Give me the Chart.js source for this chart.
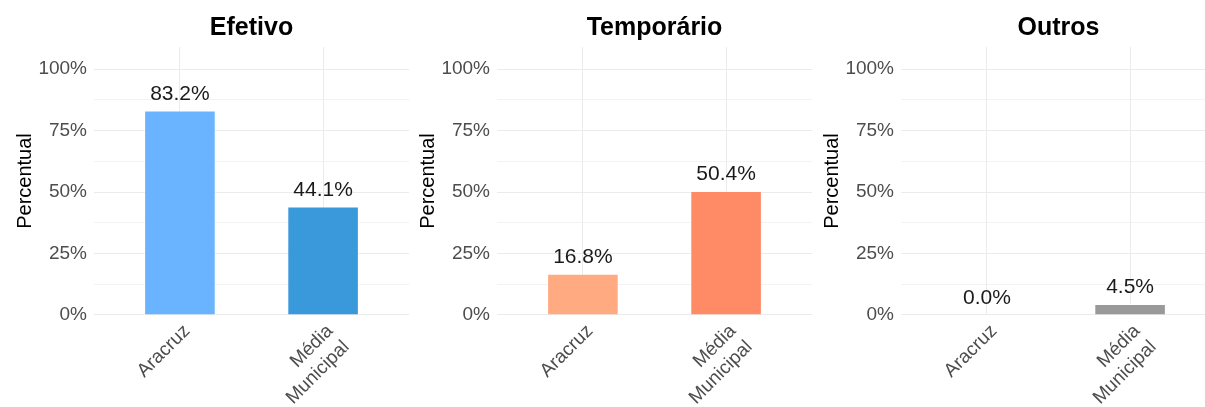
<!DOCTYPE html>
<html>
<head>
<meta charset="utf-8">
<script src="https://cdn.jsdelivr.net/npm/chart.js@4.4.1/dist/chart.umd.min.js"></script>
<style>
    html, body { margin: 0; padding: 0; background: #ffffff; overflow: hidden; }
    #wrap { position: relative; width: 1205px; height: 407px; overflow: hidden; }
    .panel { position: absolute; top: 0; width: 410px; height: 407px; }
</style>
</head>
<body>
<div id="wrap">
    <div class="panel" style="left:0px"><canvas id="chart_Efetivo" width="410" height="407"></canvas></div>
    <div class="panel" style="left:403px"><canvas id="chart_Temporario" width="410" height="407"></canvas></div>
    <div class="panel" style="left:807px"><canvas id="chart_Outros" width="410" height="407"></canvas></div>
</div>
<script>
// data
var categories = ['Aracruz', ['Média', 'Municipal']];
var panelTitles = ['Efetivo', 'Temporário', 'Outros'];
var efetivoValues = [83.2, 44.1];
var temporarioValues = [16.8, 50.4];
var outrosValues = [0.0, 4.5];
var yTickValues = [0, 12.5, 25, 37.5, 50, 62.5, 75, 87.5, 100];
var efetivoColors = ['#6AB4FF', '#3A99DB'];
var temporarioColors = ['#FFAA80', '#FF8A66'];
var outrosColors = ['#999999', '#999999'];

var FONT = '"Liberation Sans", Arial, Helvetica, sans-serif';

// panel title, centred over the plot area (like ggplot hjust = 0.5)
var panelTitlePlugin = {
    id: 'panelTitle',
    afterDraw: function (chart, args, opts) {
        var ctx = chart.ctx;
        var area = chart.chartArea;
        ctx.save();
        ctx.font = 'bold 25px ' + FONT;
        ctx.fillStyle = '#000000';
        ctx.textAlign = 'center';
        ctx.textBaseline = 'middle';
        ctx.fillText(opts.text, (area.left + area.right) / 2, 28);
        ctx.restore();
    }
};

// value labels on top of the bars
var barValuePlugin = {
    id: 'barValue',
    afterDatasetsDraw: function (chart) {
        var ctx = chart.ctx;
        var meta = chart.getDatasetMeta(0);
        var values = chart.data.datasets[0].data;
        ctx.save();
        ctx.font = '21px ' + FONT;
        ctx.fillStyle = '#1a1a1a';
        ctx.textAlign = 'center';
        ctx.textBaseline = 'bottom';
        meta.data.forEach(function (bar, i) {
            ctx.fillText(values[i].y.toFixed(1) + '%', bar.x, bar.y - 6);
        });
        ctx.restore();
    }
};

function createPanelChart(canvasId, title, values, colors) {
    var points = [];
    values.forEach(function (v, i) { points.push({ x: i, y: v }); });

    return new Chart(document.getElementById(canvasId), {
        type: 'bar',
        data: {
            datasets: [{
                data: points,
                backgroundColor: colors,
                borderColor: 'rgba(255,255,255,0.55)',
                borderWidth: 1,
                barPercentage: 0.5,
                categoryPercentage: 1
            }]
        },
        options: {
            responsive: false,
            animation: false,
            devicePixelRatio: 1,
            layout: { padding: { top: 47, right: 1, left: 0, bottom: 0 } },
            plugins: {
                legend: { display: false },
                tooltip: { enabled: false },
                panelTitle: { text: title }
            },
            scales: {
                x: {
                    type: 'linear',
                    min: -0.6,
                    max: 1.6,
                    offset: false,
                    afterBuildTicks: function (axis) {
                        axis.ticks = categories.map(function (c, i) { return { value: i }; });
                    },
                    afterFit: function (axis) { axis.height = 92; },
                    ticks: {
                        autoSkip: false,
                        minRotation: 45,
                        maxRotation: 45,
                        padding: 5,
                        labelOffset: 7,
                        color: '#4d4d4d',
                        font: { family: FONT, size: 19 },
                        callback: function (value) { return categories[value]; }
                    },
                    grid: { color: '#ebebeb', lineWidth: 1, drawTicks: false, offset: false },
                    border: { display: false }
                },
                y: {
                    min: 0,
                    max: 109,
                    afterBuildTicks: function (axis) {
                        axis.ticks = yTickValues.map(function (v) { return { value: v }; });
                    },
                    afterFit: function (axis) { axis.width = 94; },
                    ticks: {
                        padding: 7,
                        color: '#4d4d4d',
                        font: { family: FONT, size: 19 },
                        callback: function (value) { return value % 25 === 0 ? value + '%' : ''; }
                    },
                    grid: {
                        color: '#ebebeb',
                        drawTicks: false,
                        lineWidth: function (c) { return (c.tick && c.tick.value % 25 === 0) ? 1.1 : 0.6; }
                    },
                    border: { display: false },
                    title: {
                        display: true,
                        text: 'Percentual',
                        color: '#000000',
                        font: { family: FONT, size: 20 },
                        padding: { top: 13, bottom: 0 }
                    }
                }
            }
        },
        plugins: [panelTitlePlugin, barValuePlugin]
    });
}

createPanelChart('chart_Efetivo', panelTitles[0], efetivoValues, efetivoColors);
createPanelChart('chart_Temporario', panelTitles[1], temporarioValues, temporarioColors);
createPanelChart('chart_Outros', panelTitles[2], outrosValues, outrosColors);
</script>
</body>
</html>
